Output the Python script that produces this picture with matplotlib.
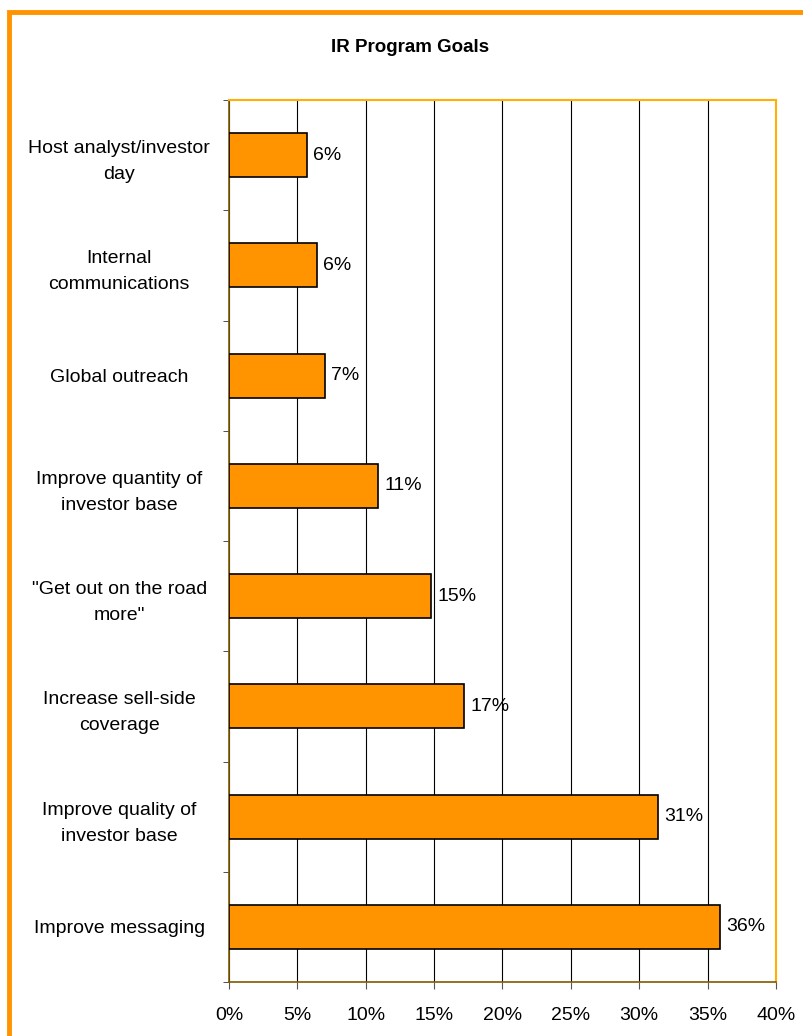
import matplotlib
matplotlib.use("Agg")
import matplotlib.pyplot as plt
from matplotlib.patches import Rectangle
import numpy as np

plt.rcParams["font.family"] = ["Liberation Sans", "DejaVu Sans"]

goals = [
    "Host analyst/investor\nday",
    "Internal\ncommunications",
    "Global outreach",
    "Improve quantity of\ninvestor base",
    "\"Get out on the road\nmore\"",
    "Increase sell-side\ncoverage",
    "Improve quality of\ninvestor base",
    "Improve messaging",
]
shares = [5.7, 6.4, 7.0, 10.9, 14.8, 17.2, 31.4, 35.9]
labels = ["6%", "6%", "7%", "11%", "15%", "17%", "31%", "36%"]
xticks = [0, 5, 10, 15, 20, 25, 30, 35, 40]

ORANGE = "#FF9300"
FS = 14

fig = plt.figure(figsize=(8.04, 10.36), dpi=100)
# orange frame round the whole chart (runs off right and bottom edges)
fig.patches.append(Rectangle((9 / 804, -0.05), 1.2, 1 - 12 / 1036 + 0.05,
                             transform=fig.transFigure, fill=False,
                             edgecolor=ORANGE, linewidth=3.5))

ax = fig.add_axes([229 / 804, 1 - 982 / 1036, (776 - 229) / 804, (982 - 100) / 1036])
y = np.arange(len(goals))
ax.barh(y, shares, height=0.4, color=ORANGE, edgecolor="black", linewidth=1.2, zorder=3)
for yi, v, lab in zip(y, shares, labels):
    ax.annotate(lab, (v, yi), xytext=(4.5, 0), textcoords="offset points",
                va="center", ha="left", fontsize=FS)

ax.set_xlim(0, 40)
ax.set_ylim(len(goals) - 0.5, -0.5)
ax.set_xticks(xticks)
ax.set_xticklabels([f"{t}%" for t in xticks], fontsize=FS)
ax.set_yticks(y)
ax.set_yticklabels(goals, fontsize=FS, ha="center", multialignment="center",
                   linespacing=1.7)
ax.tick_params(axis="y", which="major", length=0, pad=79)
ax.set_yticks(np.arange(len(goals) + 1) - 0.5, minor=True)
ax.tick_params(axis="y", which="minor", length=4.5, color="#333333", direction="out")
ax.tick_params(axis="x", length=5, color="#555555", pad=13)
ax.xaxis.grid(True, color="black", linewidth=0.8, zorder=0)
ax.set_axisbelow(True)

for s in ("left", "bottom"):
    ax.spines[s].set_color("#7F5A00")
    ax.spines[s].set_linewidth(1.2)
for s in ("top", "right"):
    ax.spines[s].set_color("#FFB000")
    ax.spines[s].set_linewidth(1.5)

fig.text(410 / 804, 1 - 47 / 1036, "IR Program Goals",
         ha="center", va="center", fontsize=13.5, fontweight="bold")

fig.savefig("out.png", dpi=100)
